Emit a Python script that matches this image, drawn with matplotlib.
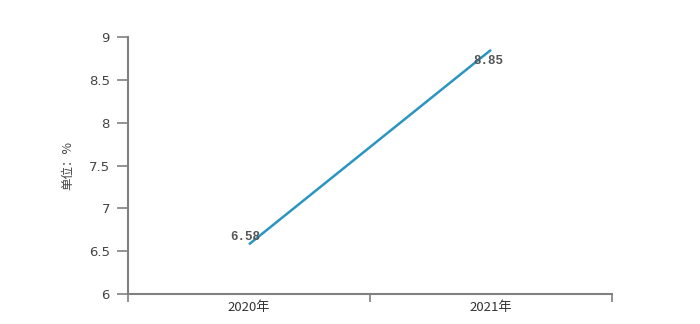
import matplotlib
matplotlib.use("Agg")
import matplotlib.pyplot as plt

plt.rcParams['font.family'] = ['Noto Sans CJK SC', 'DejaVu Sans']

categories = ["2020年", "2021年"]
values = [6.58, 8.85]
value_labels = ["6.58", "8.85"]
yticks = [6, 6.5, 7, 7.5, 8, 8.5, 9]
ytick_labels = ["6", "6.5", "7", "7.5", "8", "8.5", "9"]

fig = plt.figure(figsize=(7, 3.24), dpi=100)
ax = fig.add_axes([128/700, 1-294/324, (612-128)/700, (294-37)/324])

xs = [i + 0.5 for i in range(len(categories))]
ax.plot(xs, values, color='#2b95c2', lw=1.8, solid_capstyle='butt')

offsets = [(-3, 5), (-2, -8)]
for x, v, lab, off in zip(xs, values, value_labels, offsets):
    ax.annotate(lab, (x, v), xytext=off, textcoords='offset points',
                ha='center', va='center', fontsize=9, color='#555555',
                family=['Liberation Mono', 'DejaVu Sans Mono'], fontweight='bold')

ax.set_xlim(0, len(categories))
ax.set_ylim(6, 9)
ax.set_yticks(yticks)
ax.set_yticklabels(ytick_labels, fontsize=9.5, color='#444444', family=['DejaVu Sans'])
ax.set_xticks(range(len(categories) + 1))
ax.set_xticklabels([])
ax.set_xticks(xs, minor=True)
ax.set_xticklabels(categories, minor=True, fontsize=9.5, color='#333333')
ax.tick_params(axis='x', which='minor', length=0, pad=5)
ax.tick_params(axis='x', which='major', length=6, color='#808080', width=1.2)
ax.tick_params(axis='y', length=8, color='#808080', width=1.2, pad=5)

for s in ['top', 'right']:
    ax.spines[s].set_visible(False)
for s in ['left', 'bottom']:
    ax.spines[s].set_color('#808080')
    ax.spines[s].set_linewidth(1.5)

fig.text(68/700, 1-165/324, "单位：%", rotation=90, ha='center', va='center',
         fontsize=9, color='#444444')

fig.savefig("out.png", dpi=100)
